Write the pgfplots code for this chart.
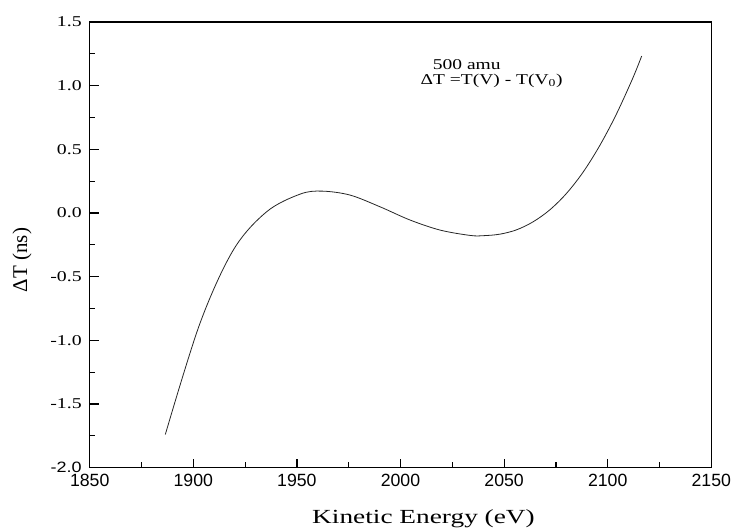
\documentclass[border=0pt]{standalone}
\usepackage{fontspec}
\setmainfont{Liberation Serif}
\newfontfamily\arial{Liberation Sans}
\usepackage{graphicx}
\usepackage{pgfplots}
\pgfplotsset{compat=1.18}
% the scanned figure has its serif text widened
\newcommand\hs[1]{\scalebox{1.32}[1]{#1}}

\begin{document}
\begin{tikzpicture}
\path[use as bounding box] (0,0) rectangle (736pt,528pt);
\begin{axis}[
  at={(89.7pt,60.3pt)},
  anchor=south west,
  scale only axis,
  width=621.6pt,
  height=445.7pt,
  xmin=1850, xmax=2150,
  ymin=-2, ymax=1.5,
  xtick={1850,1900,...,2150},
  ytick={-2,-1.5,...,1.5},
  yticklabels={{\arial\scalebox{1.2}[1]{-2.0}},\hs{-1.5},\hs{-1.0},\hs{-0.5},\hs{0.0},\hs{0.5},\hs{1.0},\hs{1.5}},
  minor x tick num=1,
  minor y tick num=1,
  tick align=inside,
  xtick pos=bottom,
  ytick pos=left,
  major tick length=9pt,
  minor tick length=5.5pt,
  every tick/.style={black, line width=1.2pt},
  axis line style={line width=1.5pt},
  /pgf/number format/assume math mode=true,
  /pgf/number format/1000 sep={},
  xticklabel style={font=\arial\fontsize{17.7}{20}\selectfont, yshift=-3pt},
  yticklabel style={font=\fontsize{15}{17}\selectfont, xshift=-4.5pt},
  scaled ticks=false,
  xlabel={\scalebox{1.366}[1]{Kinetic Energy (eV)}},
  xlabel style={font=\fontsize{20}{22}\selectfont,
    at={(axis description cs:0.537,0)}, anchor=base, yshift=-55.6pt},
  ylabel={ΔT (ns)},
  ylabel style={font=\fontsize{21}{23}\selectfont,
    at={(axis description cs:-0.1089,0.466)}, anchor=center},
  clip=false,
]
\addplot[smooth, tension=0.55, draw=black!85, line width=0.8pt] coordinates {
  (1886.5,-1.739)
  (1903.2,-0.867)
  (1919.3,-0.291)
  (1935.4,0.010)
  (1951.5,0.148)
  (1962.0,0.172)
  (1975.6,0.141)
  (1990.1,0.049)
  (2004.6,-0.055)
  (2019.1,-0.134)
  (2033.6,-0.176)
  (2040.0,-0.178)
  (2048.0,-0.166)
  (2056.0,-0.132)
  (2064.0,-0.069)
  (2072.0,0.024)
  (2080.0,0.152)
  (2088.0,0.318)
  (2096.0,0.525)
  (2104.0,0.770)
  (2112.0,1.055)
  (2116.4,1.233)
};

% annotation
\node[font=\fontsize{15}{17}\selectfont, anchor=base] at (axis cs:2032,1.128) {\scalebox{1.3}[1]{500 amu}};
\node[font=\fontsize{15}{17}\selectfont, anchor=base] at (axis cs:2044,1.012) {\scalebox{1.3}[1]{ΔT =T(V) - T(V\textsubscript{0})}};
\end{axis}
\end{tikzpicture}
\end{document}
